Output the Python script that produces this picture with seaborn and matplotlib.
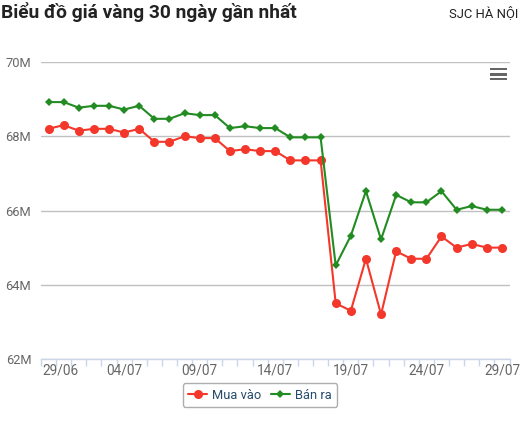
import matplotlib
matplotlib.use("Agg")
import matplotlib.pyplot as plt
import matplotlib.patches as mpatches
import pandas as pd
import seaborn as sns

dates = [
    "29/06", "30/06", "01/07", "02/07", "03/07", "04/07", "05/07", "06/07",
    "07/07", "08/07", "09/07", "10/07", "11/07", "12/07", "13/07", "14/07",
    "15/07", "16/07", "17/07", "18/07", "19/07", "20/07", "21/07", "22/07",
    "23/07", "24/07", "25/07", "26/07", "27/07", "28/07", "29/07",
]
# million VND per luong
mua_vao = [
    68.20, 68.30, 68.15, 68.20, 68.20, 68.10, 68.20, 67.85, 67.85, 68.00,
    67.95, 67.95, 67.60, 67.65, 67.60, 67.60, 67.35, 67.35, 67.35, 63.50,
    63.30, 64.70, 63.20, 64.90, 64.70, 64.70, 65.30, 65.00, 65.10, 65.00,
    65.00,
]
ban_ra = [
    68.92, 68.92, 68.77, 68.82, 68.82, 68.72, 68.82, 68.47, 68.47, 68.62,
    68.57, 68.57, 68.22, 68.27, 68.22, 68.22, 67.97, 67.97, 67.97, 64.52,
    65.32, 66.52, 65.22, 66.42, 66.22, 66.22, 66.52, 66.02, 66.12, 66.02,
    66.02,
]
label_every = 5
y_ticks = [62, 64, 66, 68, 70]

RED = "#f4372b"
GREEN = "#228b22"

df = pd.DataFrame({"idx": range(len(dates)), "date": dates,
                   "mua": mua_vao, "ban": ban_ra})

sns.set_theme(style="white")
plt.rcParams["font.family"] = ["Roboto", "DejaVu Sans"]

W, H = 520, 423
fig = plt.figure(figsize=(W / 100, H / 100), dpi=100)
ax = fig.add_axes([41 / W, 1 - 359 / H, 468.5 / W, (359 - 62) / H])

sns.lineplot(data=df, x="idx", y="mua", ax=ax, color=RED, lw=1.5,
             marker="o", markersize=6.5, markeredgewidth=0, label="Mua vào")
sns.lineplot(data=df, x="idx", y="ban", ax=ax, color=GREEN, lw=1.5,
             marker="D", markersize=4.5, markeredgewidth=0, label="Bán ra")

ax.set_xlim(-0.5, len(dates) - 0.5)
ax.set_ylim(62, 70)
ax.set_xlabel("")
ax.set_ylabel("")

# tick marks between categories, labels every 5 days
ax.set_xticks([i - 0.5 for i in range(len(dates) + 1)])
ax.set_xticklabels([])
ax.tick_params(axis="x", which="major", length=5, width=1, color="#ccd6eb",
               direction="out", bottom=True)
lab_idx = list(range(0, len(dates), label_every))
lab_pos = [-0.44] + lab_idx[1:]
ax.set_xticks(lab_pos, minor=True)
ax.set_xticklabels([dates[i] for i in lab_idx], minor=True)
ax.tick_params(axis="x", which="minor", length=0, pad=3, labelsize=9.8,
               labelcolor="#666666")
ax.get_xticklabels(minor=True)[0].set_horizontalalignment("left")

ax.set_yticks(y_ticks)
ax.set_yticklabels([f"{v}M" for v in y_ticks])
ax.tick_params(axis="y", length=0, pad=7, labelsize=9.3, labelcolor="#666666")
ax.grid(axis="y", color="#c0c0c0", lw=1)
ax.set_axisbelow(True)

for s in ["top", "left", "right"]:
    ax.spines[s].set_visible(False)
ax.spines["bottom"].set_color("#ccd6eb")
ax.spines["bottom"].set_linewidth(1)

leg = ax.legend(loc="center", bbox_to_anchor=(260 / W, 1 - 395 / H),
                bbox_transform=fig.transFigure, ncol=2, frameon=True,
                fancybox=True, fontsize=9.3, handlelength=1.5,
                handletextpad=0.4, columnspacing=0.7, borderpad=0.4)
leg.get_frame().set_edgecolor("#999999")
leg.get_frame().set_linewidth(1)
for t in leg.get_texts():
    t.set_color("#274b6d")

fig.text(1 / W, 1 - 18 / H, "Biểu đồ giá vàng 30 ngày gần nhất",
         fontsize=13.8, fontweight="bold", color="#222222", ha="left",
         va="baseline")
fig.text(518 / W, 1 - 17 / H, "SJC HÀ NỘI", fontsize=9.4, color="#222222",
         ha="right", va="baseline")

# export menu icon
for yc in (69, 74.3, 79):
    fig.patches.append(mpatches.Rectangle(
        (490 / W, 1 - (yc + 1.3) / H), 17 / W, 2.6 / H,
        transform=fig.transFigure, color="#666666", lw=0))

fig.savefig("out.png", dpi=100)
